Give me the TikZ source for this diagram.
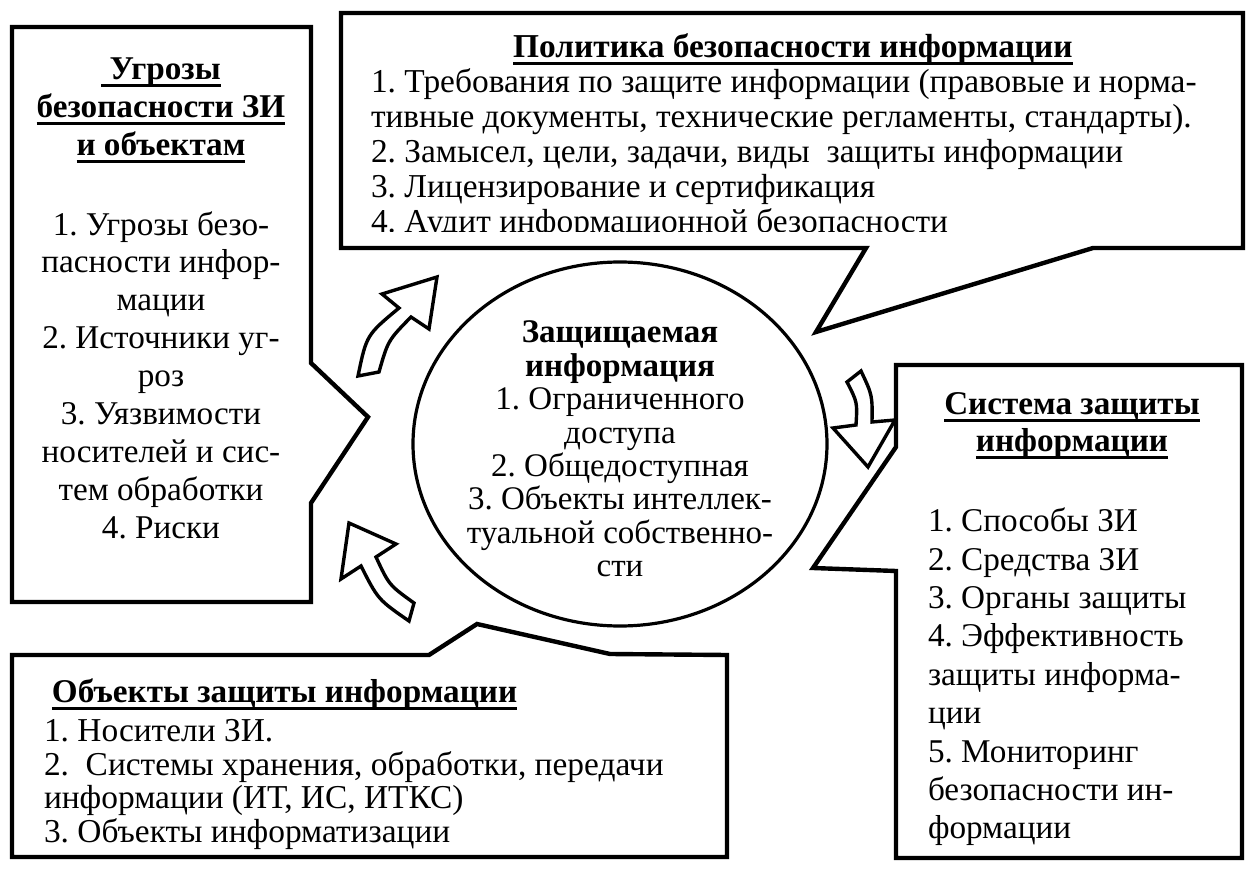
\documentclass[tikz,border=0pt]{standalone}
\usepackage{fontspec}
\setmainfont{Liberation Serif}
\frenchspacing
\newcommand\myul[1]{\setbox0=\hbox{#1}\rlap{\rule[-0.22em]{\wd0}{1.5pt}}\box0}
\newcommand\firstline{\rule{0pt}{0.8em}}
\begin{document}
\begin{tikzpicture}[x=0.5pt,y=-0.5pt,
  frame/.style={draw=black,line width=2.2pt,line join=miter},
  blockarrow/.style={draw=black,line width=1.7pt,line join=miter,fill=white},
  circ/.style={draw=black,line width=1.6pt},
  txt/.style={inner sep=0pt,outer sep=0pt},
  big/.style={font=\fontsize{16.6}{18.95}\selectfont},
  pol/.style={font=\fontsize{16.7}{17.4}\selectfont},
  mid/.style={font=\fontsize{16.5}{16.7}\selectfont},
  sysitems/.style={font=\fontsize{16.6}{19.2}\selectfont},
  systitle/.style={font=\fontsize{16.6}{18.5}\selectfont},
  objitems/.style={font=\fontsize{16.7}{16.9}\selectfont}]
\useasboundingbox (0,0) rectangle (1260,872);
% callout frames
\draw[frame] (12,27) -- (311,27) -- (311,363) -- (368,417) -- (311,503) -- (311,602) -- (12,602) -- cycle;
\draw[frame] (341,13) -- (1243,13) -- (1243,248) -- (1093,248) -- (816,332) -- (866,248) -- (341,248) -- cycle;
\draw[frame] (896,365) -- (1242,365) -- (1242,858) -- (896,858) -- (896,571) -- (813,568) -- (896,447) -- cycle;
\draw[frame] (12,655) -- (429,655) -- (477,624) -- (610,654) -- (727,655) -- (727,857) -- (12,857) -- cycle;
% central ellipse
\draw[circ] (620,444) ellipse [x radius=207, y radius=182];
% block arrows
\draw[blockarrow] (358,376) .. controls (366.5,335) .. (399,308) -- (382,294) -- (437,277) -- (429,329) -- (411,317) .. controls (388,340.5) .. (379,372) -- cycle;
\draw[blockarrow] (349,523) -- (396,544) -- (376,557) .. controls (389,585) .. (414,603) -- (409,621) .. controls (378,599.5) .. (361,566) -- (341,579) -- cycle;
\draw[blockarrow] (847,382) -- (861,371) .. controls (872.4,395.2) .. (872,422) -- (895,420) -- (868,467) -- (833,428) -- (856,425) .. controls (857.4,402.3) .. (847,382) -- cycle;
% texts
\node[txt,big,align=center,anchor=north] (threats) at (161,53.2)
  {\firstline\textbf{\myul{\ Угрозы}}\\ \textbf{\myul{безопасности ЗИ}}\\ \textbf{\myul{и объектам}}\\[20.8pt]
   1. Угрозы безо-\\ пасности инфор-\\ мации\\ 2. Источники уг-\\ роз\\ 3. Уязвимости\\ носителей и сис-\\ тем обработки\\ 4. Риски};
\node[txt,pol,anchor=north] (poltitle) at (793,31.2)
  {\firstline\textbf{\myul{Политика безопасности информации}}};
\begin{scope}
\clip (341,13) rectangle (1243,232);
\node[txt,pol,align=left,anchor=north west] (policy) at (371,66.2)
  {\firstline 1. Требования по защите информации (правовые и норма-\\
   тивные документы, технические регламенты, стандарты).\\
   2. Замысел, цели, задачи, виды\ \ защиты информации\\
   3. Лицензирование и сертификация\\
   4. Аудит информационной безопасности};
\end{scope}
\node[txt,mid,align=center,anchor=north] (info) at (620,316.5)
  {\firstline\textbf{Защищаемая}\\ \textbf{информация}\\ 1. Ограниченного\\ доступа\\ 2. Общедоступная\\
   3. Объекты интеллек-\\ туальной собственно-\\ сти};
\node[txt,systitle,align=center,anchor=north] (systitle) at (1072,388.2)
  {\firstline\textbf{\myul{Система защиты}}\\ \textbf{\myul{информации}}};
\node[txt,sysitems,align=left,anchor=north west] (sys) at (928,505.2)
  {\firstline 1. Способы ЗИ\\ 2. Средства ЗИ\\ 3. Органы защиты\\ 4. Эффективность\\ защиты информа-\\ ции\\
   5. Мониторинг\\ безопасности ин-\\ формации};
\node[txt,big,anchor=north west] (objtitle) at (52,676.2)
  {\firstline\textbf{\myul{Объекты защиты информации}}};
\node[txt,objitems,align=left,anchor=north west] (obj) at (44,714.5)
  {\firstline 1. Носители ЗИ.\\ 2.\ \ Системы хранения, обработки, передачи\\ информации (ИТ, ИС, ИТКС)\\ 3. Объекты информатизации};
\end{tikzpicture}
\end{document}
